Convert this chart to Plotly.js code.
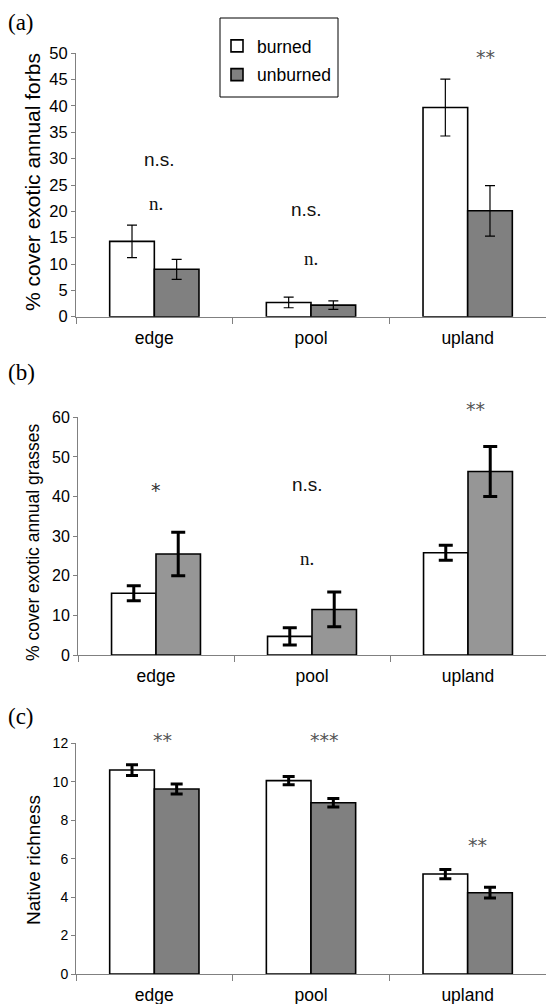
<!DOCTYPE html>
<html>
<head>
<meta charset="utf-8">
<script src="https://cdn.plot.ly/plotly-3.0.1.min.js"></script>
<style>html,body{margin:0;padding:0;background:#fff;}#chart{width:546px;height:1004px;}</style>
</head>
<body>
<div id="chart"></div>
<script>
// ---------------- data ----------------
const categories = ['edge', 'pool', 'upland'];
const seriesNames = ['burned', 'unburned'];

// (a) % cover exotic annual forbs
const forbsBurned = [14.3, 2.7, 39.7];
const forbsBurnedErr = [3.1, 1.0, 5.4];
const forbsUnburned = [9.0, 2.2, 20.1];
const forbsUnburnedErr = [1.9, 0.8, 4.8];

// (b) % cover exotic annual grasses
const grassBurned = [15.6, 4.7, 25.8];
const grassBurnedErr = [1.9, 2.2, 1.9];
const grassUnburned = [25.5, 11.5, 46.3];
const grassUnburnedErr = [5.5, 4.4, 6.3];

// (c) Native richness
const richBurned = [10.61, 10.06, 5.20];
const richBurnedErr = [0.28, 0.21, 0.24];
const richUnburned = [9.62, 8.91, 4.23];
const richUnburnedErr = [0.26, 0.22, 0.28];

const panelLabels = ['(a)', '(b)', '(c)'];
const yTitles = ['% cover exotic annual forbs', '% cover exotic annual grasses', 'Native richness'];
const sigA = ['n.s.', 'n.', 'n.s.', 'n.', '**'];
const sigB = ['*', 'n.s.', 'n.', '**'];
const sigC = ['**', '***', '**'];

// ---------------- layout helpers ----------------
const W = 546, H = 1004;
const px = x => x / W;
const py = y => 1 - y / H;
const SANS = 'Liberation Sans, Arial, sans-serif';
const SERIF = 'Liberation Serif, Times New Roman, serif';
const AXC = '#808080';

function bar(x, y, err, name, color, xa, ya, showleg, errW, errT) {
  return {
    type: 'bar', x: x, y: y, name: name, xaxis: xa, yaxis: ya,
    showlegend: showleg, legendgroup: name,
    marker: {color: color, line: {color: '#000', width: 1.6}},
    error_y: {type: 'data', array: err, visible: true, color: '#000', thickness: errT, width: errW}
  };
}

const data = [
  bar(categories, forbsBurned, forbsBurnedErr, seriesNames[0], '#ffffff', 'x', 'y', true, 5, 1.2),
  bar(categories, forbsUnburned, forbsUnburnedErr, seriesNames[1], '#808080', 'x', 'y', true, 5, 1.2),
  bar(categories, grassBurned, grassBurnedErr, seriesNames[0], '#ffffff', 'x2', 'y2', false, 7, 3),
  bar(categories, grassUnburned, grassUnburnedErr, seriesNames[1], '#969696', 'x2', 'y2', false, 7, 3),
  bar(categories, richBurned, richBurnedErr, seriesNames[0], '#ffffff', 'x3', 'y3', false, 6, 3),
  bar(categories, richUnburned, richUnburnedErr, seriesNames[1], '#808080', 'x3', 'y3', false, 6, 3)
];

function xax(dom, anchor) {
  return {
    domain: dom, anchor: anchor, type: 'category', range: [-0.5, 2.5],
    showline: true, linecolor: AXC, linewidth: 1,
    ticks: 'outside', tickson: 'boundaries', ticklen: 6, tickcolor: AXC, tickwidth: 1,
    ticklabelstandoff: 5,
    showgrid: false, zeroline: false, fixedrange: true,
    tickfont: {family: SANS, size: 17.5, color: '#000'}
  };
}
function yax(dom, anchor, range, dtick, tickSize) {
  return {
    domain: dom, anchor: anchor, range: range, dtick: dtick, tick0: 0,
    showline: true, linecolor: AXC, linewidth: 1,
    ticks: 'outside', ticklen: 4, tickcolor: AXC, tickwidth: 1,
    showgrid: false, zeroline: false, fixedrange: true,
    tickfont: {family: SANS, size: tickSize, color: '#000'}
  };
}

const annotations = [];
function txt(x, y, t, font, size, color, angle) {
  annotations.push({xref: 'paper', yref: 'paper', x: px(x), y: py(y), text: t, showarrow: false,
    textangle: angle || 0,
    xanchor: 'center', yanchor: 'middle', font: {family: font, size: size, color: color}});
}
// panel labels
[[23, 23], [23, 372], [23, 716]].forEach((p, i) => {
  annotations.push({xref: 'paper', yref: 'paper', x: px(6), y: py(p[1]), text: panelLabels[i], showarrow: false,
    xanchor: 'left', yanchor: 'middle', font: {family: SERIF, size: 23, color: '#000'}});
});
// y-axis titles
txt(32, 182, yTitles[0], SANS, 21, '#000', -90);
txt(33, 542, yTitles[1], SANS, 17.5, '#000', -90);
txt(33, 860, yTitles[2], SANS, 19, '#000', -90);
// significance (a)
txt(159, 160, sigA[0], SANS, 19, '#111');
txt(156, 203, sigA[1], SERIF, 19, '#111');
txt(306, 209, sigA[2], SANS, 19, '#111');
txt(311, 258, sigA[3], SERIF, 19, '#111');
txt(486, 57, sigA[4], 'DejaVu Sans', 19, '#555');
// significance (b)
txt(156, 490, sigB[0], 'DejaVu Sans', 19, '#333');
txt(307, 484, sigB[1], SANS, 19, '#111');
txt(307, 558, sigB[2], SERIF, 19, '#111');
txt(475, 409, sigB[3], 'DejaVu Sans', 19, '#555');
// significance (c)
txt(162, 740, sigC[0], 'DejaVu Sans', 19, '#555');
txt(324, 740, sigC[1], 'DejaVu Sans', 19, '#555');
txt(477, 845, sigC[2], 'DejaVu Sans', 19, '#555');

const layout = {
  width: W, height: H,
  margin: {l: 0, r: 0, t: 0, b: 0, pad: 0},
  paper_bgcolor: '#fff', plot_bgcolor: 'rgba(0,0,0,0)',
  barmode: 'group', bargap: 0.43, bargroupgap: 0,
  showlegend: true,
  legend: {x: px(217), y: py(28), xanchor: 'left', yanchor: 'top',
    bgcolor: 'rgba(0,0,0,0)', borderwidth: 0, tracegroupgap: 3,
    font: {family: SANS, size: 17.5, color: '#000'}},
  xaxis: xax([px(76), 1], 'y'),
  yaxis: yax([py(316.7), py(53.3)], 'x', [0, 50], 5, 16.5),
  xaxis2: xax([px(78), 1], 'y2'),
  yaxis2: yax([py(655), py(417.3)], 'x2', [0, 60], 10, 16),
  xaxis3: xax([px(76), 1], 'y3'),
  yaxis3: yax([py(974), py(743.3)], 'x3', [0, 12], 2, 14),
  shapes: [{type: 'rect', xref: 'paper', yref: 'paper', x0: px(220), x1: px(338), y0: py(18), y1: py(97),
    line: {color: '#000', width: 1}, fillcolor: 'rgba(0,0,0,0)'}],
  annotations: annotations
};

Plotly.newPlot('chart', data, layout, {displayModeBar: false, staticPlot: true});
</script>
</body>
</html>
